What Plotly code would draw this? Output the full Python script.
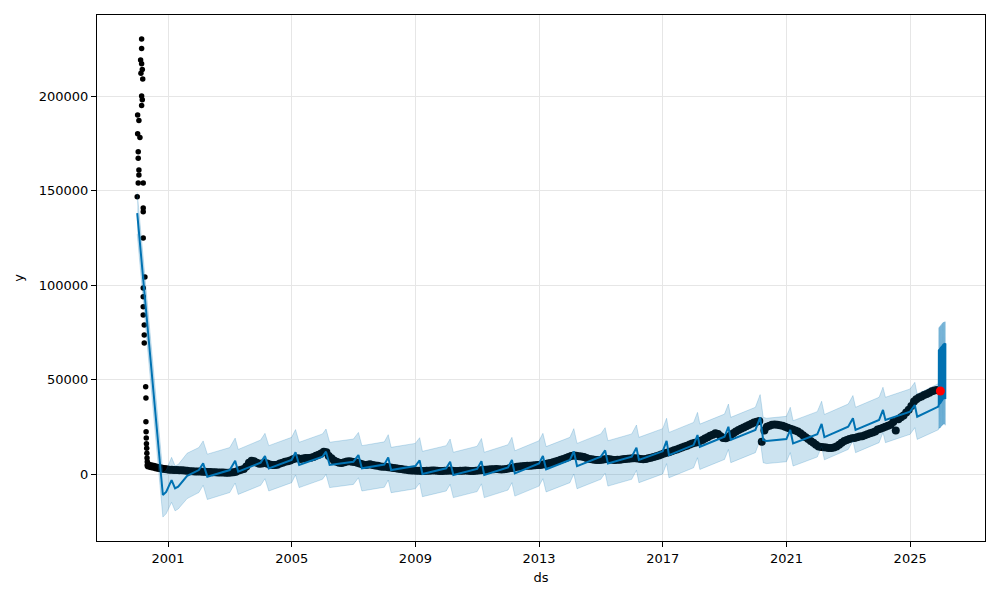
import pandas as pd
import plotly.graph_objects as go

# ---------------- observed data ----------------
# early spike (Jan-May 2000), individual observations
spike_dates = [
    "2000-01-03", "2000-01-08", "2000-01-08", "2000-01-15", "2000-01-15", "2000-01-15",
    "2000-01-23", "2000-01-23", "2000-01-23", "2000-02-04", "2000-02-12", "2000-02-16",
    "2000-02-24", "2000-02-24", "2000-02-24", "2000-02-24", "2000-02-24", "2000-03-03",
    "2000-03-03", "2000-03-08", "2000-03-14", "2000-03-14", "2000-03-14", "2000-03-14",
    "2000-03-14", "2000-03-14", "2000-03-14", "2000-03-14", "2000-03-26", "2000-03-26",
    "2000-03-26", "2000-04-03", "2000-04-12", "2000-04-15", "2000-04-15", "2000-04-17",
    "2000-04-19", "2000-04-21", "2000-04-24", "2000-04-26", "2000-04-28", "2000-05-01",
    "2000-05-05",
]
spike_values = [
    146700, 190000, 180000, 170500, 167000, 154000,
    187000, 160800, 158200, 178000, 219000, 212000,
    230200, 225200, 217000, 200000, 195000, 214000,
    198000, 209000, 154000, 140700, 138800, 124900,
    98400, 93800, 88500, 84100, 78800, 73500,
    69300, 104200, 46200, 40200, 27700, 22400,
    19000, 16000, 13600, 11000, 8500, 6500,
    5000,
]

# monthly observations, May 2000 .. Nov 2025
obs_values = [
    4500, 4100, 3800, 3500, 3200, 2900, 2700, 2500,                                   # 2000
    2300, 2200, 2100, 2100, 2000, 2000, 1900, 1700, 1500, 1400, 1300, 1300,           # 2001
    1300, 1200, 1200, 1100, 1000, 900, 900, 800, 800, 800, 700, 700,                  # 2002
    800, 900, 1200, 1800, 2200, 2600, 4000, 6000, 7000, 6800, 6000, 5400,             # 2003
    5600, 5800, 5500, 5000, 4800, 4700, 4900, 5500, 6000, 6500, 6800, 7200,           # 2004
    7800, 8200, 8300, 8000, 8200, 8500, 8400, 8600, 9000, 9600, 10200, 10800,         # 2005
    11800, 11500, 9500, 8300, 7200, 6500, 6000, 5800, 6200, 6600, 6800, 6500,         # 2006
    6300, 6000, 5500, 5200, 4800, 4900, 5200, 4800, 4500, 4300, 4000, 3800,           # 2007
    3800, 3600, 3400, 3200, 3000, 2800, 2600, 2400, 2200, 2000, 1900, 1800,           # 2008
    1700, 1700, 1600, 1600, 1700, 1700, 1800, 1800, 1700, 1600, 1600, 1700,           # 2009
    1700, 1800, 1700, 1600, 1600, 1700, 1700, 1800, 1700, 1600, 1600, 1700,           # 2010
    1800, 2000, 2200, 2300, 2400, 2500, 2500, 2600, 2500, 2400, 2500, 2700,           # 2011
    3000, 3200, 3500, 3800, 4000, 4100, 4200, 4300, 4400, 4500, 4600, 4700,           # 2012
    4800, 5000, 5200, 5500, 5800, 6200, 6600, 7000, 7500, 8000, 8500, 9000,           # 2013
    9500, 9800, 9600, 9400, 9200, 9000, 8500, 8000, 7800, 7500, 7400, 7400,           # 2014
    7600, 7800, 7900, 7800, 7500, 7400, 7500, 7600, 7800, 8000, 8100, 8200,           # 2015
    8300, 8300, 8200, 8000, 7800, 8000, 8300, 8600, 9000, 9400, 9800, 10300,          # 2016
    10800, 11200, 11500, 12000, 12600, 13000, 13500, 14000, 14500, 15000, 15600, 16200,  # 2017
    16500, 16800, 17400, 18000, 18800, 19500, 20200, 20800, 21500, 21200, 20000, 19000,  # 2018
    18900, 19500, 20500, 21500, 22500, 23300, 24000, 24600, 25200, 25900, 26600, 27200,  # 2019
    27700, 28000, 17000, 23000, 25000, 25500, 26000, 26200, 26000, 25800, 25500, 25000,  # 2020
    24500, 24000, 23500, 23000, 22500, 21500, 20500, 19500, 18500, 17500, 16500, 15500,  # 2021
    14500, 14300, 14200, 14000, 13800, 13800, 14000, 14500, 15500, 16500, 17500, 18000,  # 2022
    18500, 18900, 19000, 19500, 19800, 20000, 20500, 21000, 21600, 22000, 22500, 23500,  # 2023
    24000, 24500, 25000, 25500, 26000, 27500, 23000, 29000, 30000, 31000, 32500, 34000,  # 2024
    36000, 38300, 39500, 40500, 41000, 41800, 42300, 43000, 43800, 44200, 44500,         # 2025
]
obs_dates = pd.date_range("2000-05-01", periods=len(obs_values), freq="MS") + pd.Timedelta(days=14)

# ---------------- fitted model (history) ----------------
fit_dates = [
    "2000-01-03", "2000-11-01", "2000-12-10", "2001-02-12", "2001-03-25", "2001-05-01",
    "2001-08-15", "2001-12-31", "2002-02-20", "2002-04-10", "2002-12-31", "2003-03-05",
    "2003-04-10", "2003-12-31", "2004-02-20", "2004-04-05", "2004-12-31", "2005-02-15",
    "2005-03-30", "2005-12-31", "2006-02-10", "2006-03-25", "2006-12-31", "2007-02-28",
    "2007-04-10", "2007-12-31", "2008-02-15", "2008-03-20", "2008-12-31", "2009-02-20",
    "2009-03-25", "2009-12-31", "2010-02-15", "2010-03-25", "2010-12-31", "2011-02-20",
    "2011-03-25", "2011-12-31", "2012-02-15", "2012-03-20", "2012-12-31", "2013-02-15",
    "2013-03-25", "2013-12-31", "2014-02-15", "2014-03-25", "2014-12-31", "2015-02-20",
    "2015-03-25", "2015-12-31", "2016-02-25", "2016-03-25", "2016-12-31", "2017-02-15",
    "2017-03-15", "2017-12-31", "2018-02-15", "2018-03-15", "2018-12-31", "2019-02-15",
    "2019-03-15", "2019-12-31", "2020-02-25", "2020-04-01", "2020-05-10", "2020-12-31",
    "2021-02-15", "2021-03-20", "2021-12-31", "2022-02-20", "2022-03-25", "2022-12-31",
    "2023-02-25", "2023-03-28", "2023-12-31", "2024-02-15", "2024-03-15", "2024-12-31",
    "2025-02-25", "2025-03-25", "2025-11-30",
]
yhat_fit = [
    138000, -11100, -9500, -3200, -7600, -6700,
    -1000, 2100, 5600, -1400, 2100, 7000,
    1200, 6000, 9500, 3000, 7400, 11500,
    4800, 9200, 11800, 4800, 6500, 10000,
    3000, 5000, 8800, 2100, 4200, 7200,
    0, 3000, 6500, -500, 2700, 6800,
    -500, 3500, 7400, 300, 5600, 9500,
    2500, 7400, 12000, 4200, 9200, 12500,
    5600, 9200, 13900, 7400, 12000, 17500,
    10000, 15300, 20600, 14400, 19700, 25000,
    18000, 23300, 30000, 18000, 17500, 18500,
    23300, 16200, 21000, 26500, 19500, 25000,
    29500, 23300, 28600, 33900, 28600, 33000,
    36500, 30300, 35700,
]
lower_fit = [
    127000, -22800, -21000, -15000, -19500, -18500,
    -13000, -9800, -6000, -13500, -9800, -4800,
    -10800, -6000, -2500, -9000, -4600, -500,
    -7200, -2800, -200, -7200, -5500, -2000,
    -9000, -7000, -3200, -9900, -7800, -4800,
    -12000, -9000, -5500, -12500, -9300, -5200,
    -12500, -8500, -4600, -11700, -6400, -2500,
    -9500, -4600, 0, -7800, -2800, 500,
    -6400, -2800, 1900, -4600, 0, 5500,
    -2000, 3300, 8600, 2400, 7700, 13000,
    6000, 11300, 18000, 6000, 5500, 6500,
    11300, 4200, 9000, 14500, 7500, 13000,
    17500, 11300, 16600, 21900, 16600, 21000,
    24500, 18300, 23400,
]
upper_fit = [
    149000, 500, 2000, 8800, 4300, 5000,
    11000, 14000, 17500, 10500, 14000, 19000,
    13000, 18000, 21500, 15000, 19400, 23500,
    16800, 21200, 23800, 16800, 18500, 22000,
    15000, 17000, 20800, 14100, 16200, 19200,
    12000, 15000, 18500, 11500, 14700, 18800,
    11500, 15500, 19400, 12300, 17600, 21500,
    14500, 19400, 24000, 16200, 21200, 24500,
    17600, 21200, 25900, 19400, 24000, 29500,
    22000, 27300, 32600, 26400, 31700, 37000,
    30000, 35300, 42000, 30000, 29500, 30500,
    35300, 28200, 33000, 38500, 31500, 37000,
    41500, 35300, 40600, 45900, 40600, 45000,
    48500, 42300, 47800,
]

# ---------------- forecast (daily, Mon..Sun rows) ----------------
fc_start = "2025-12-01"
yhat_fc = [
    36600, 36700, 36700, 36800, 36800, 65400, 65600,
    36900, 37000, 37000, 37100, 37100, 65800, 66000,
    37200, 37300, 37300, 37400, 37400, 66200, 66400,
    37500, 37600, 37600, 37700, 37800, 66600, 66800,
    37900, 38000, 38100, 38200, 38300, 67000, 67200,
    38400, 38500, 38600, 38700, 38800, 67400, 67600,
    38900, 39000, 39100, 39200, 39300, 67800, 68000,
    39400, 39500, 39600, 39700, 39800, 68200, 68400,
    39900, 40000, 40100, 40100, 40200, 68600, 68700,
    40200, 40300, 40300, 40400, 40400, 68800, 68900,
    40400, 40400, 40300, 40300, 40200, 69000, 69100,
    40100, 40000, 39900, 39800, 39700, 69100, 69200,
]
lower_fc = [
    23900, 24100, 23800, 24200, 24000, 53000, 53100,
    24200, 24300, 24100, 24500, 24300, 53400, 53500,
    24400, 24600, 24300, 24700, 24500, 53700, 53900,
    24600, 24800, 24500, 24900, 24800, 54100, 54300,
    24900, 25100, 25000, 25200, 25300, 54500, 54600,
    25300, 25400, 25500, 25600, 25500, 54900, 55100,
    25600, 25700, 25800, 25700, 25900, 55300, 55500,
    25900, 26000, 26100, 26200, 26100, 55700, 55900,
    26200, 26300, 26400, 26300, 26400, 56100, 56200,
    26400, 26500, 26500, 26600, 26500, 56300, 56400,
    26500, 26400, 26400, 26300, 26300, 56500, 56600,
    26200, 26100, 26000, 25900, 25800, 56600, 56700,
]
upper_fc = [
    48800, 48900, 49100, 48800, 49000, 77300, 77500,
    49100, 49300, 49000, 49400, 49200, 77700, 77900,
    49500, 49600, 49400, 49700, 49500, 78100, 78300,
    49800, 50000, 49700, 50100, 50000, 78500, 78700,
    50200, 50300, 50500, 50400, 50600, 78900, 79100,
    50700, 50800, 50900, 51100, 51000, 79300, 79500,
    51200, 51300, 51500, 51400, 51600, 79700, 79900,
    51700, 51800, 51900, 52100, 52000, 80100, 80200,
    52200, 52300, 52500, 52400, 52500, 80300, 80400,
    52500, 52600, 52600, 52800, 52700, 80400, 80500,
    52700, 52600, 52600, 52500, 52500, 80500, 80600,
    52400, 52300, 52200, 52100, 52000, 80600, 80600,
]
fc_dates = pd.date_range(fc_start, periods=len(yhat_fc), freq="D")

# highlighted point
mark_dates = ["2025-12-24"]
mark_values = [43900]

# ---------------- axes ----------------
x_tick_years = ["2001", "2005", "2009", "2013", "2017", "2021", "2025"]
y_tick_values = [0, 50000, 100000, 150000, 200000]
y_tick_labels = ["0", "50000", "100000", "150000", "200000"]
x_range = ["1998-09-15", "2027-06-04"]
y_range = [-35450, 242860]

line_dates = list(pd.to_datetime(fit_dates)) + list(fc_dates)
line_yhat = yhat_fit + yhat_fc
line_lower = lower_fit + lower_fc
line_upper = upper_fit + upper_fc

BLUE = "#0072B2"
BAND = "rgba(0,114,178,0.2)"

fig = go.Figure()
fig.add_trace(go.Scatter(
    x=pd.to_datetime(spike_dates), y=spike_values, mode="markers",
    marker=dict(color="black", size=5.5), showlegend=False, hoverinfo="skip"))
fig.add_trace(go.Scatter(
    x=obs_dates, y=obs_values, mode="markers",
    marker=dict(color="black", size=8), showlegend=False))
fig.add_trace(go.Scatter(
    x=line_dates, y=line_yhat, mode="lines",
    line=dict(color=BLUE, width=2), showlegend=False))
fig.add_trace(go.Scatter(
    x=line_dates, y=line_lower, mode="lines",
    line=dict(color=BAND, width=1), showlegend=False))
fig.add_trace(go.Scatter(
    x=line_dates, y=line_upper, mode="lines", fill="tonexty", fillcolor=BAND,
    line=dict(color=BAND, width=1), showlegend=False))
fig.add_trace(go.Scatter(
    x=pd.to_datetime(mark_dates), y=mark_values, mode="markers",
    marker=dict(color="red", size=9), showlegend=False))

font = dict(family="DejaVu Sans", size=13, color="black")
# the page body has an 8px margin, so the figure is 992x592 to fill the 1000x600 window
fig.update_layout(
    width=992, height=592,
    margin=dict(l=89, r=15, t=7, b=59),
    paper_bgcolor="white", plot_bgcolor="white",
    font=font, showlegend=False,
)
fig.update_xaxes(
    type="date", range=x_range,
    tickvals=[f"{y}-01-01" for y in x_tick_years], ticktext=x_tick_years,
    showgrid=True, gridcolor="#e6e6e6", gridwidth=1,
    showline=True, linecolor="black", linewidth=1, mirror=True,
    ticks="outside", ticklen=5, tickcolor="black", tickwidth=1,
    title=dict(text="ds", font=font, standoff=8), zeroline=False,
)
fig.update_yaxes(
    range=y_range, tickvals=y_tick_values, ticktext=y_tick_labels,
    showgrid=True, gridcolor="#e6e6e6", gridwidth=1,
    showline=True, linecolor="black", linewidth=1, mirror=True,
    ticks="outside", ticklen=5, tickcolor="black", tickwidth=1,
    title=dict(text="y", font=font, standoff=12), zeroline=False,
)
fig.write_html("out.html")
